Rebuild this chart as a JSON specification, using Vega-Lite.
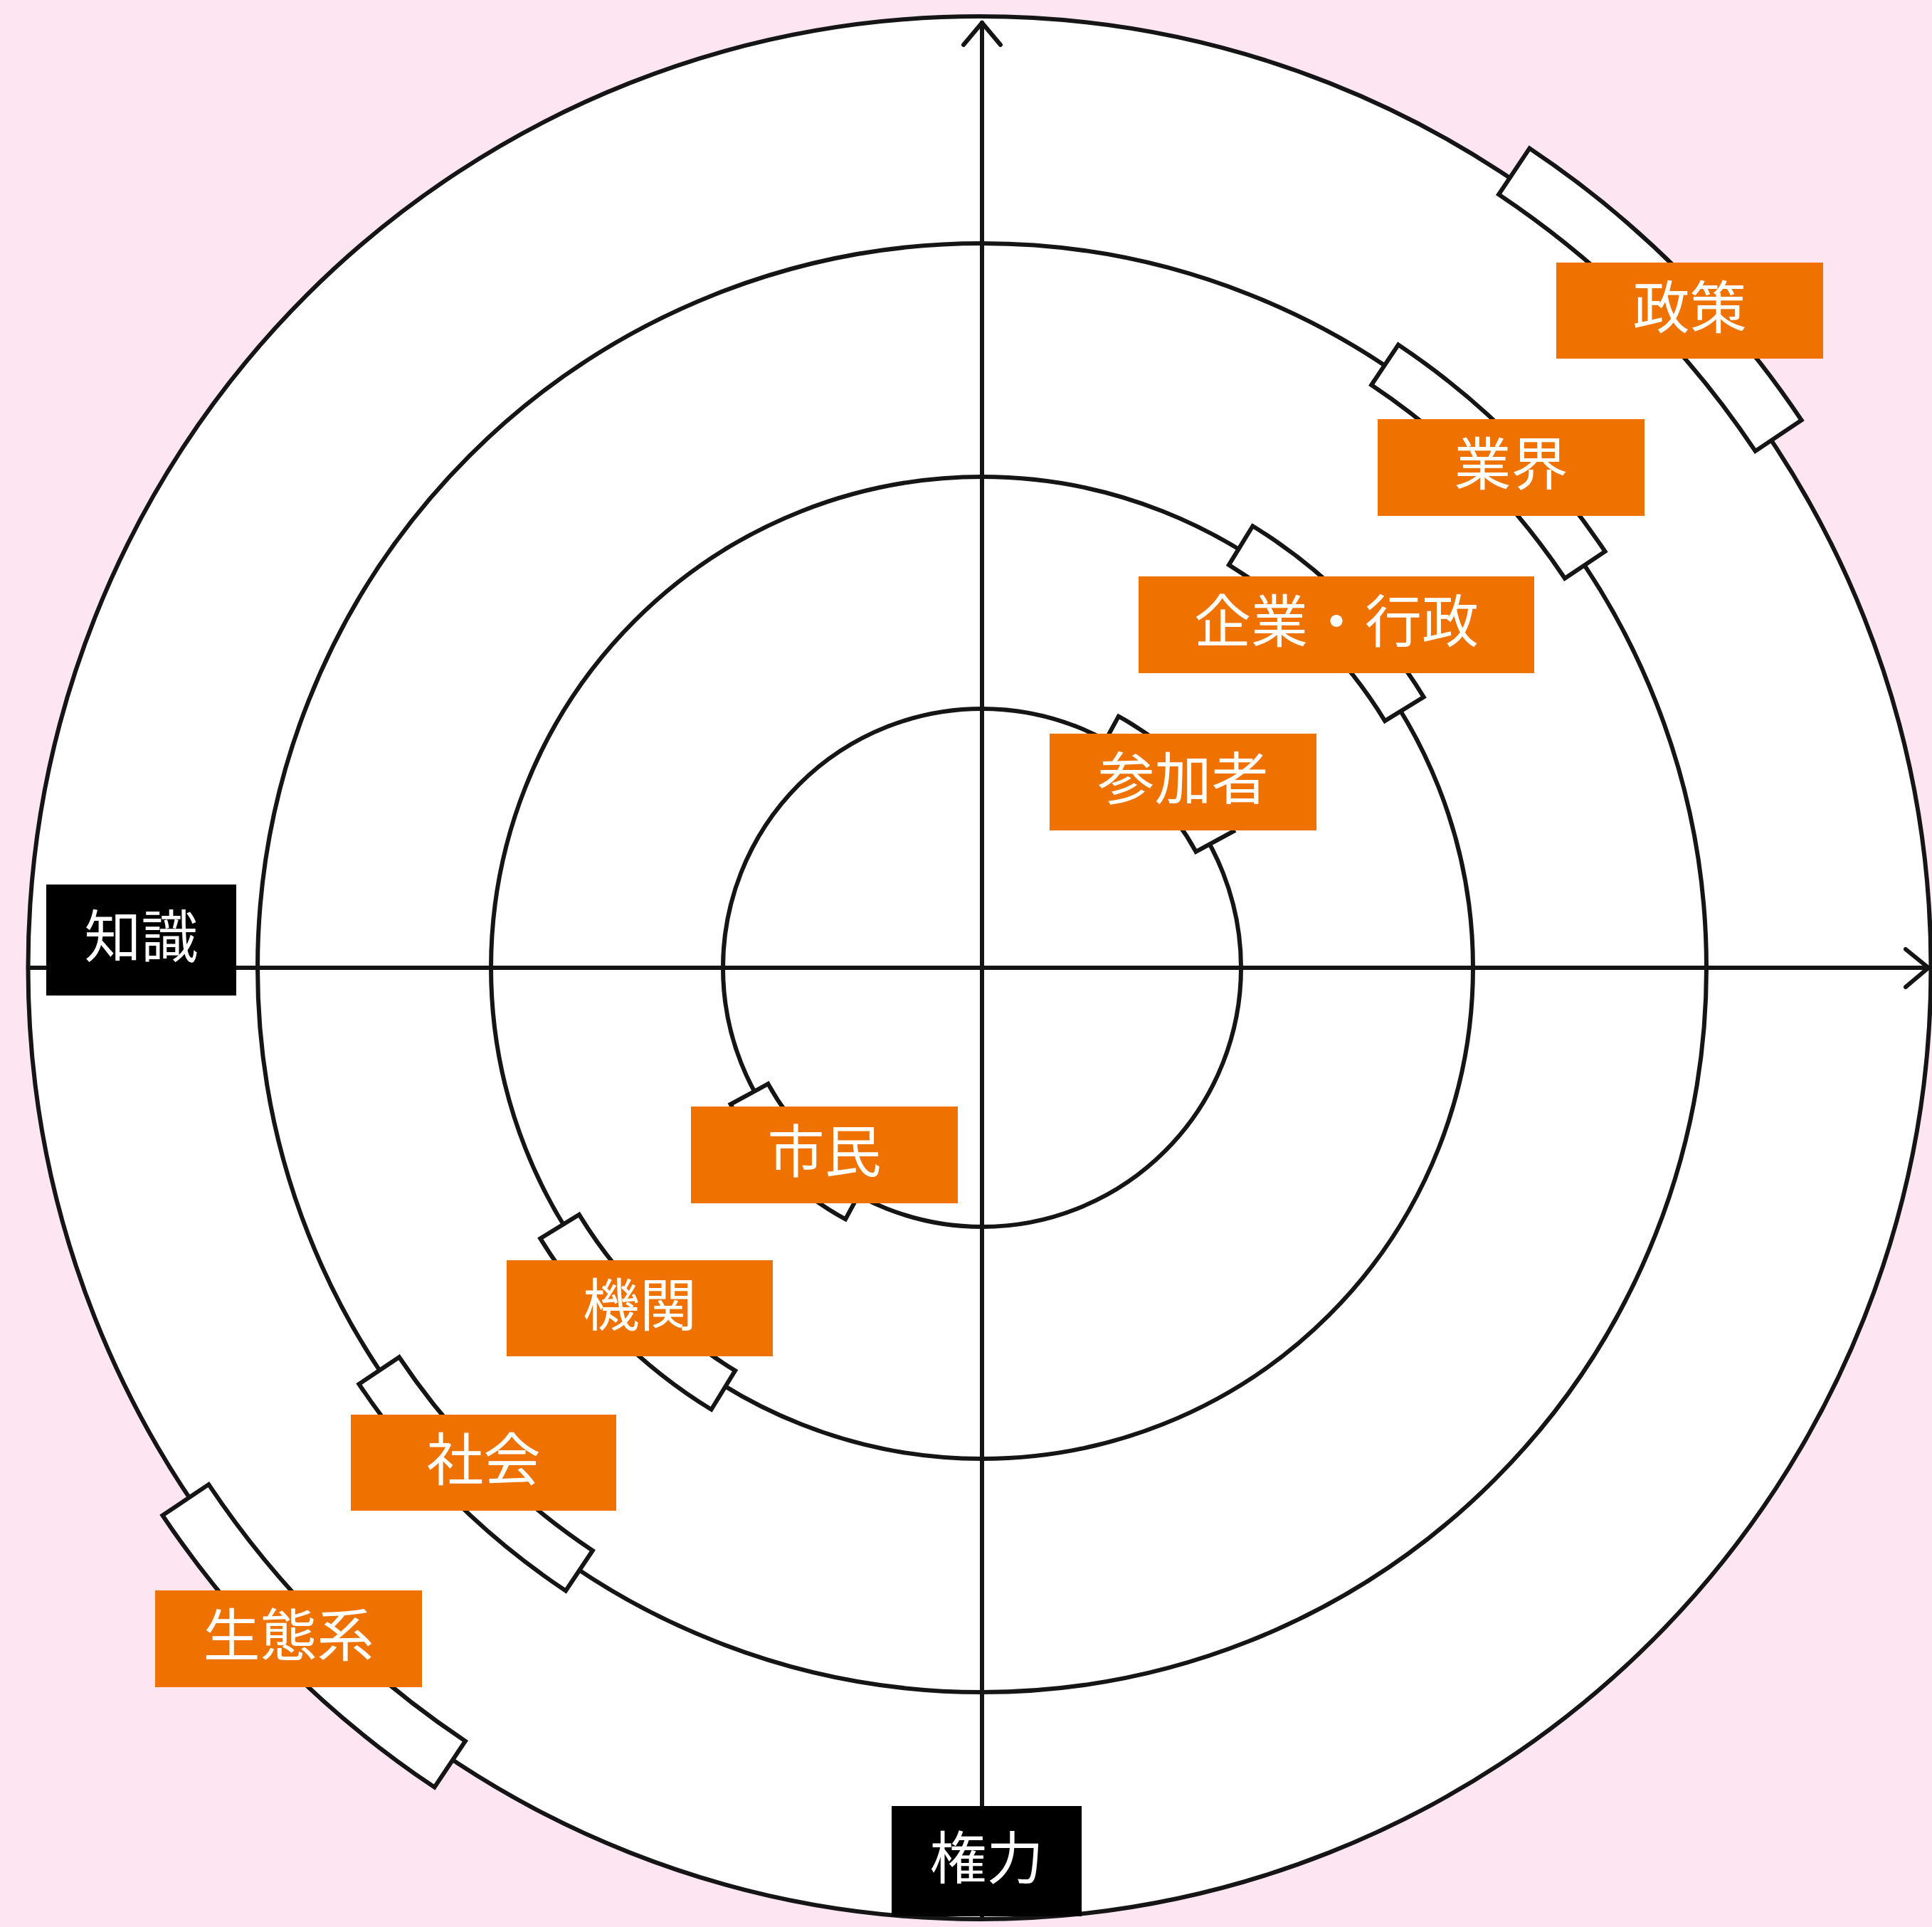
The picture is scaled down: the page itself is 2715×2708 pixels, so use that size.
{
  "$schema": "https://vega.github.io/schema/vega-lite/v6.json",
  "width": 2715,
  "height": 2708,
  "autosize": "none",
  "padding": 0,
  "background": "#FDE5F1",
  "config": {"view": {"stroke": null}},
  "datasets": {
    "disk": [{"r": 1337}],
    "outer": [{"ring": 4, "r": 1337}],
    "circles": [
      {"ring": 1, "r": 364},
      {"ring": 2, "r": 690},
      {"ring": 3, "r": 1018}
    ],
    "axes": [
      {"part": "horizontal", "xa": -1340, "ya": 0, "xb": 1330, "yb": 0},
      {"part": "vertical", "xa": 0, "ya": -1337, "xb": 0, "yb": 1328},
      {"part": "up-left", "xa": -26, "ya": 1297, "xb": 0, "yb": 1328},
      {"part": "up-right", "xa": 26, "ya": 1297, "xb": 0, "yb": 1328},
      {"part": "right-top", "xa": 1298, "ya": 26, "xb": 1330, "yb": 0},
      {"part": "right-bottom", "xa": 1298, "ya": -27, "xb": 1330, "yb": 0}
    ],
    "boxes": [
      {"label": "参加者", "ri": 342, "ro": 402, "t1": 28.5, "t2": 61.5},
      {"label": "企業・行政", "ri": 664, "ro": 728, "t1": 31.5, "t2": 58.5},
      {"label": "業界", "ri": 985, "ro": 1053, "t1": 33.75, "t2": 56.25},
      {"label": "政策", "ri": 1307, "ro": 1385, "t1": 33.75, "t2": 56.25},
      {"label": "市民", "ri": 342, "ro": 402, "t1": 208.5, "t2": 241.5},
      {"label": "機関", "ri": 664, "ro": 728, "t1": 211.5, "t2": 238.5},
      {"label": "社会", "ri": 985, "ro": 1053, "t1": 213.75, "t2": 236.25},
      {"label": "生態系", "ri": 1307, "ro": 1385, "t1": 213.75, "t2": 236.25}
    ],
    "labels": [
      {"text": "政策", "kind": "orange", "xa": 807, "xb": 1182, "ya": 991, "yb": 856, "cx": 994.5, "cy": 923.5},
      {"text": "業界", "kind": "orange", "xa": 556, "xb": 931, "ya": 771, "yb": 635, "cx": 743.5, "cy": 703},
      {"text": "企業・行政", "kind": "orange", "xa": 220, "xb": 776, "ya": 550, "yb": 414, "cx": 498, "cy": 482},
      {"text": "参加者", "kind": "orange", "xa": 95, "xb": 470, "ya": 329, "yb": 193, "cx": 282.5, "cy": 261},
      {"text": "市民", "kind": "orange", "xa": -409, "xb": -34, "ya": -195, "yb": -331, "cx": -221.5, "cy": -263},
      {"text": "機関", "kind": "orange", "xa": -668, "xb": -294, "ya": -411, "yb": -546, "cx": -481, "cy": -478.5},
      {"text": "社会", "kind": "orange", "xa": -887, "xb": -514, "ya": -628, "yb": -763, "cx": -700.5, "cy": -695.5},
      {"text": "生態系", "kind": "orange", "xa": -1162, "xb": -787, "ya": -875, "yb": -1011, "cx": -974.5, "cy": -943},
      {"text": "知識", "kind": "black", "xa": -1315, "xb": -1048, "ya": 117, "yb": -39, "cx": -1181.5, "cy": 39},
      {"text": "権力", "kind": "black", "xa": -127, "xb": 140, "ya": -1178, "yb": -1333, "cx": 6.5, "cy": -1255.5}
    ]
  },
  "layer": [
    {
      "data": {"name": "disk"},
      "mark": {"type": "arc", "theta": 0, "theta2": 6.2832, "fill": "#FFFFFF", "stroke": null},
      "encoding": {
        "x": {"datum": -3.5, "type": "quantitative", "scale": {"domain": [-1380, 1335], "nice": false, "zero": false}, "axis": null},
        "y": {"datum": 0, "type": "quantitative", "scale": {"domain": [-1348, 1360], "nice": false, "zero": false}, "axis": null},
        "radius": {"field": "r", "type": "quantitative", "scale": {"type": "linear", "domain": [0, 1340], "range": [0, 1340], "zero": true}, "stack": null}
      }
    },
    {
      "data": {"name": "outer"},
      "mark": {"type": "arc", "theta": 0, "theta2": 6.2832, "filled": false, "stroke": "#151515", "strokeWidth": 6},
      "encoding": {
        "x": {"datum": -3.5, "type": "quantitative"},
        "y": {"datum": 0, "type": "quantitative"},
        "radius": {"field": "r", "type": "quantitative", "scale": {"type": "linear", "domain": [0, 1340], "range": [0, 1340], "zero": true}, "stack": null}
      }
    },
    {
      "data": {"name": "circles"},
      "mark": {"type": "arc", "theta": 0, "theta2": 6.2832, "filled": false, "stroke": "#151515", "strokeWidth": 6},
      "encoding": {
        "x": {"datum": 0, "type": "quantitative"},
        "y": {"datum": 0, "type": "quantitative"},
        "radius": {"field": "r", "type": "quantitative", "scale": {"type": "linear", "domain": [0, 1340], "range": [0, 1340], "zero": true}, "stack": null}
      }
    },
    {
      "data": {"name": "axes"},
      "mark": {"type": "rule", "stroke": "#151515", "strokeWidth": 6, "strokeCap": "round"},
      "encoding": {
        "x": {"field": "xa", "type": "quantitative"},
        "y": {"field": "ya", "type": "quantitative"},
        "x2": {"field": "xb"},
        "y2": {"field": "yb"}
      }
    },
    {
      "data": {"name": "boxes"},
      "mark": {"type": "arc", "fill": "#FFFFFF", "stroke": "#151515", "strokeWidth": 6, "strokeJoin": "miter"},
      "encoding": {
        "x": {"datum": 0, "type": "quantitative"},
        "y": {"datum": 0, "type": "quantitative"},
        "theta": {"field": "t1", "type": "quantitative", "scale": {"type": "linear", "domain": [0, 360], "range": [0, 6.283185307], "zero": true}, "stack": null},
        "theta2": {"field": "t2"},
        "radius": {"field": "ro", "type": "quantitative", "scale": {"type": "linear", "domain": [0, 1340], "range": [0, 1340], "zero": true}, "stack": null},
        "radius2": {"field": "ri"}
      }
    },
    {
      "data": {"name": "labels"},
      "mark": {"type": "rect"},
      "encoding": {
        "x": {"field": "xa", "type": "quantitative"},
        "x2": {"field": "xb"},
        "y": {"field": "ya", "type": "quantitative"},
        "y2": {"field": "yb"},
        "color": {"field": "kind", "type": "nominal", "scale": {"domain": ["orange", "black"], "range": ["#EF7200", "#000000"]}, "legend": null}
      }
    },
    {
      "data": {"name": "labels"},
      "mark": {"type": "text", "font": "Noto Sans CJK JP", "fontSize": 80, "fontWeight": "normal", "color": "#FFFFFF", "align": "center", "baseline": "middle"},
      "encoding": {
        "x": {"field": "cx", "type": "quantitative"},
        "y": {"field": "cy", "type": "quantitative"},
        "text": {"field": "text"}
      }
    }
  ]
}
